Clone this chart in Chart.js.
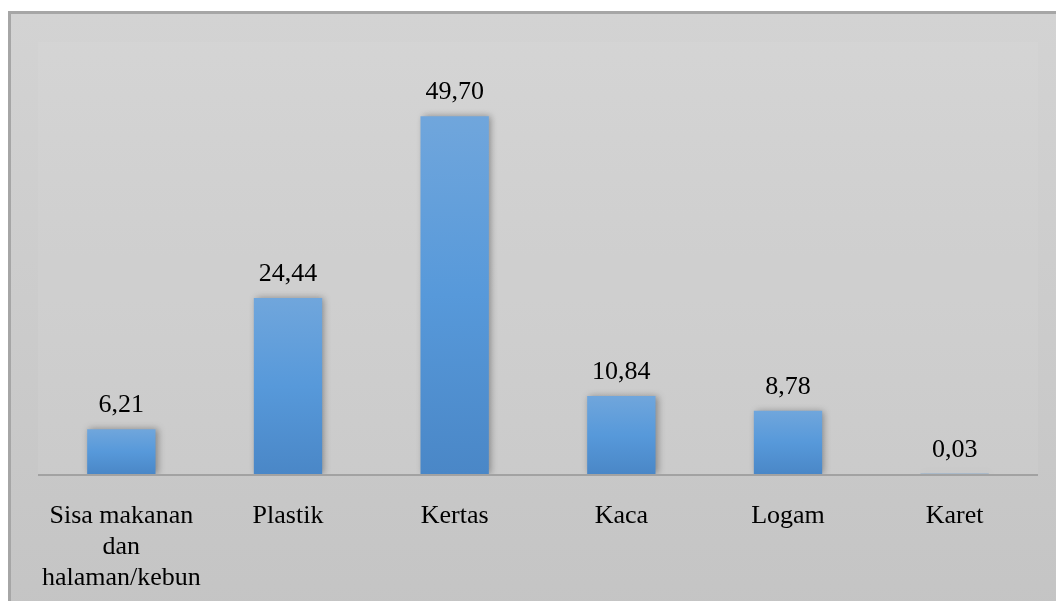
<!DOCTYPE html>
<html>
<head>
<meta charset="utf-8">
<script src="https://cdn.jsdelivr.net/npm/chart.js@4/dist/chart.umd.min.js"></script>
<style>
  html, body { margin: 0; padding: 0; background: #fff; overflow: hidden; }
  #frame {
    position: absolute;
    left: 8px;
    top: 11px;
    width: 1070px;
    height: 610px;
    border: 3px solid #a6a6a6;
    background: linear-gradient(#d3d3d3, #c4c4c4);
  }
  #wasteChart { position: absolute; left: 0; top: 0; }
</style>
</head>
<body>
<div id="frame"></div>
<canvas id="wasteChart" width="1056" height="601"></canvas>
<script>
const CATEGORIES = [
  ["Sisa makanan", "dan", "halaman/kebun"],
  "Plastik",
  "Kertas",
  "Kaca",
  "Logam",
  "Karet",
];
const PERCENTAGES = [6.21, 24.44, 49.7, 10.84, 8.78, 0.03];
const Y_MAX = 60;

const SERIF = '"Liberation Serif", "DejaVu Serif", serif';

function fmt(v) {
  return v.toFixed(2).replace(".", ",");
}

// per-bar vertical gradient, light at the top of each bar
function barFill(c) {
  const chart = c.chart;
  const y = chart.scales.y;
  if (!chart.chartArea || !y) return "#5b97d4";
  const top = y.getPixelForValue(c.raw);
  const base = y.getPixelForValue(0);
  if (!(base - top > 1)) return "#4e8cca";
  const g = chart.ctx.createLinearGradient(0, top, 0, base);
  g.addColorStop(0, "#70a6dc");
  g.addColorStop(0.5, "#5799da");
  g.addColorStop(1, "#4a87c7");
  return g;
}

const plotBackground = {
  id: "plotBackground",
  beforeDraw(chart) {
    const { ctx, chartArea } = chart;
    const base = chart.scales.y.getPixelForValue(0);
    ctx.save();
    ctx.fillStyle = "rgba(255,255,255,0.06)";
    ctx.fillRect(chartArea.left, chartArea.top, chartArea.width, base - chartArea.top);
    ctx.strokeStyle = "#a2a2a2";
    ctx.lineWidth = 2;
    ctx.beginPath();
    ctx.moveTo(chartArea.left, base + 1);
    ctx.lineTo(chartArea.right, base + 1);
    ctx.stroke();
    ctx.restore();
  },
};

const barShadow = {
  id: "barShadow",
  beforeDatasetDraw(chart) {
    const ctx = chart.ctx;
    ctx.save();
    ctx.shadowColor = "rgba(0,0,0,0.35)";
    ctx.shadowBlur = 7;
    ctx.shadowOffsetX = 2;
    ctx.shadowOffsetY = 0;
  },
  afterDatasetDraw(chart) {
    chart.ctx.restore();
  },
};

const valueLabels = {
  id: "valueLabels",
  afterDatasetsDraw(chart) {
    const ctx = chart.ctx;
    const meta = chart.getDatasetMeta(0);
    ctx.save();
    ctx.font = "26px " + SERIF;
    ctx.fillStyle = "#000";
    ctx.textAlign = "center";
    ctx.textBaseline = "alphabetic";
    meta.data.forEach((bar, i) => {
      ctx.fillText(fmt(PERCENTAGES[i]), bar.x, bar.y - 17);
    });
    ctx.restore();
  },
};

function drawChart() {
  new Chart(document.getElementById("wasteChart"), {
    type: "bar",
    data: {
      labels: CATEGORIES,
      datasets: [
        {
          data: PERCENTAGES,
          backgroundColor: barFill,
          borderWidth: 0,
          barPercentage: 0.41,
          categoryPercentage: 1,
        },
      ],
    },
    options: {
      responsive: false,
      animation: false,
      maintainAspectRatio: false,
      devicePixelRatio: 1,
      layout: { padding: { left: 38, right: 18, top: 42, bottom: 0 } },
      scales: {
        x: {
          grid: { display: false, drawTicks: false },
          border: { display: false },
          afterFit: (s) => { s.height = 127; },
          ticks: {
            padding: 26,
            maxRotation: 0,
            autoSkip: false,
            color: "#000",
            font: { family: SERIF, size: 26, lineHeight: 1.21 },
          },
        },
        y: {
          display: false,
          min: 0,
          max: Y_MAX,
        },
      },
      plugins: {
        legend: { display: false },
        tooltip: { enabled: false },
      },
    },
    plugins: [plotBackground, barShadow, valueLabels],
  });
}

// make sure the serif face is ready before the canvas text is drawn
document.fonts.load('26px "Liberation Serif"').then(drawChart, drawChart);
</script>
</body>
</html>
